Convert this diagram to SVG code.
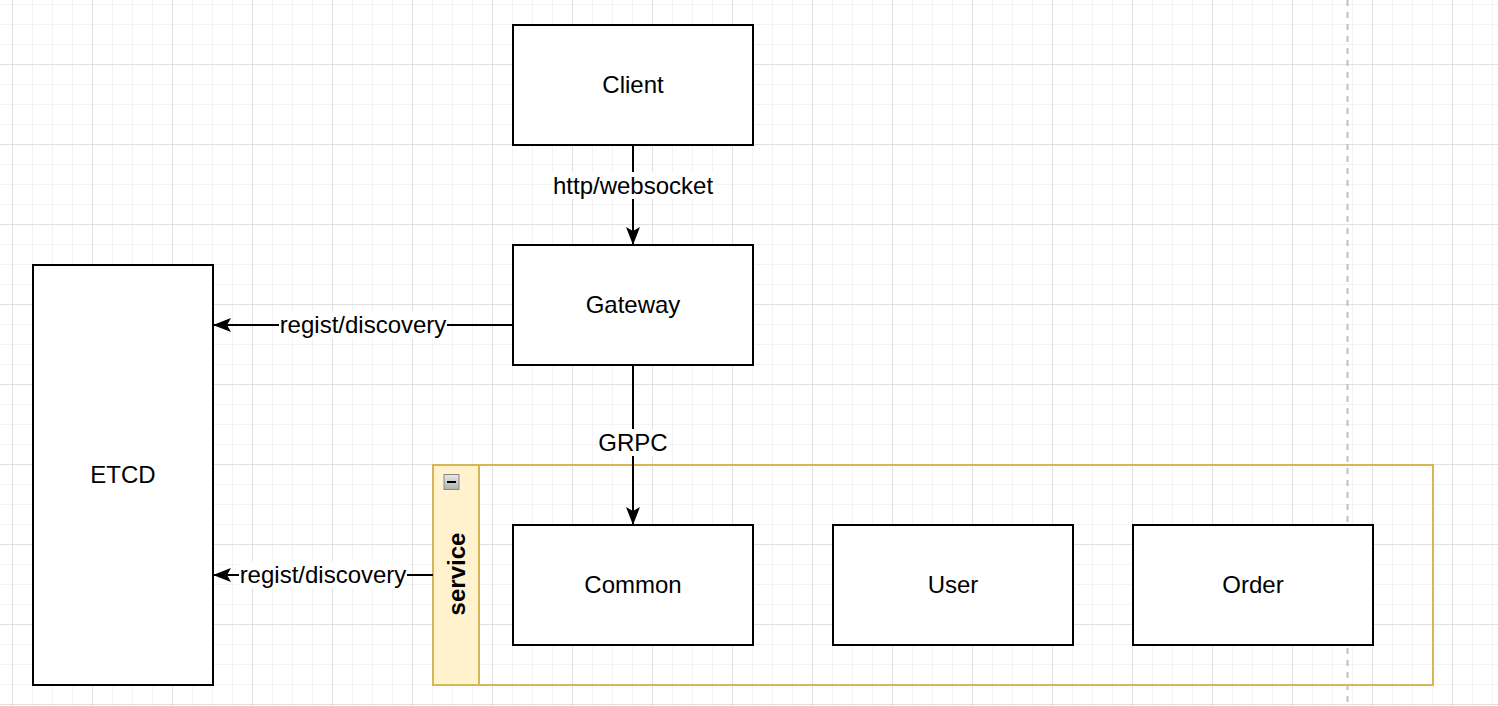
<svg xmlns="http://www.w3.org/2000/svg" width="1498" height="706" viewBox="0 0 1498 706">
<defs>
<pattern id="minor" x="12" y="4" width="20" height="20" patternUnits="userSpaceOnUse">
<path d="M0 0H20M0 0V20" fill="none" stroke="#f0f0f0" stroke-width="1.5"/>
</pattern>
<pattern id="major" x="12" y="64" width="80" height="80" patternUnits="userSpaceOnUse">
<path d="M0 0H80M0 0V80" fill="none" stroke="#d0d0d0" stroke-width="1"/>
</pattern>
<linearGradient id="btn" x1="0" y1="0" x2="0" y2="1">
<stop offset="0" stop-color="#e8e8e8"/>
<stop offset="1" stop-color="#b0b0b0"/>
</linearGradient>
<marker id="arr" viewBox="0 0 18 14" refX="18" refY="7" markerWidth="18" markerHeight="14" markerUnits="userSpaceOnUse" orient="auto">
<path d="M0 0L18 7L0 14L4 7Z" fill="#000"/>
</marker>
<style>
.box{fill:#fff;stroke:#000;stroke-width:2}
.t{font-family:"Liberation Sans",Arial,sans-serif;font-size:24px;fill:#000;text-anchor:middle;dominant-baseline:central}
.edge{fill:none;stroke:#000;stroke-width:2;marker-end:url(#arr)}
.lbg{fill:#fff}
</style>
</defs>
<rect width="1498" height="706" fill="#fff"/>
<rect width="1498" height="706" fill="url(#minor)"/>
<rect width="1498" height="706" fill="url(#major)"/>
<line x1="1347.5" y1="0" x2="1347.5" y2="706" stroke="#c0c0c0" stroke-width="2" stroke-dasharray="6,6"/>

<g id="service">
<rect x="433" y="465" width="1000" height="220" fill="none" stroke="#d6b656" stroke-width="2"/>
<rect x="433" y="465" width="46" height="220" fill="#fff2cc" stroke="#d6b656" stroke-width="2"/>
<rect x="444" y="474.5" width="15" height="15" fill="url(#btn)" stroke="#888" stroke-width="1"/>
<line x1="447" y1="482" x2="456" y2="482" stroke="#000" stroke-width="2"/>
<text class="t" x="456" y="574" font-weight="bold" transform="rotate(-90 456 574)">service</text>
</g>

<g id="client"><rect class="box" x="513" y="25" width="240" height="120"/><text class="t" x="633" y="84">Client</text></g>
<g id="gateway"><rect class="box" x="513" y="245" width="240" height="120"/><text class="t" x="633" y="304">Gateway</text></g>
<g id="etcd"><rect class="box" x="33" y="265" width="180" height="420"/><text class="t" x="123" y="474">ETCD</text></g>
<g id="common"><rect class="box" x="513" y="525" width="240" height="120"/><text class="t" x="633" y="584">Common</text></g>
<g id="user"><rect class="box" x="833" y="525" width="240" height="120"/><text class="t" x="953" y="584">User</text></g>
<g id="order"><rect class="box" x="1133" y="525" width="240" height="120"/><text class="t" x="1253" y="584">Order</text></g>

<g id="connectors">
<path class="edge" d="M633 145V245"/>
<rect class="lbg" x="552" y="172" width="162" height="27"/>
<text class="t" x="633" y="185">http/websocket</text>

<path class="edge" d="M633 365V525"/>
<rect class="lbg" x="597" y="429" width="72" height="27"/>
<text class="t" x="633" y="442">GRPC</text>

<path class="edge" d="M513 325H213"/>
<rect class="lbg" x="279" y="311" width="168" height="27"/>
<text class="t" x="363" y="324">regist/discovery</text>

<path class="edge" d="M433 575H213"/>
<rect class="lbg" x="239" y="561" width="168" height="27"/>
<text class="t" x="323" y="574">regist/discovery</text>
</g>
</svg>
